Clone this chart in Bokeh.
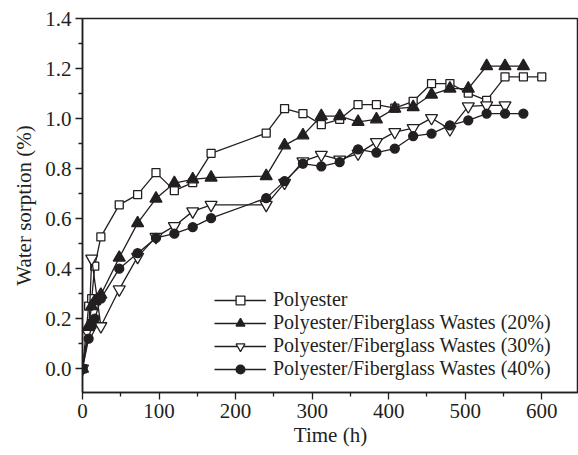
from bokeh.plotting import figure
from bokeh.models import Range1d, FixedTicker, PrintfTickFormatter, Legend, LegendItem
from bokeh.embed import file_html
from bokeh.resources import INLINE

# ---- data ----
t_poly = [0, 8, 12, 16, 24, 48, 72, 96, 120, 144, 168, 240, 264, 288, 312, 336, 360, 384, 408, 432, 456, 480, 504, 528, 552, 576, 600]
y_poly = [0, 0.25, 0.28, 0.41, 0.527, 0.655, 0.696, 0.784, 0.712, 0.744, 0.861, 0.942, 1.04, 1.02, 0.976, 0.997, 1.056, 1.056, 1.042, 1.069, 1.14, 1.14, 1.102, 1.073, 1.167, 1.167, 1.167]

t_20 = [0, 8, 12, 16, 24, 48, 72, 96, 120, 144, 168, 240, 264, 288, 312, 336, 360, 384, 408, 432, 456, 480, 504, 528, 552, 576]
y_20 = [0, 0.17, 0.25, 0.27, 0.296, 0.444, 0.582, 0.68, 0.742, 0.757, 0.764, 0.77, 0.893, 0.933, 1.01, 1.01, 0.987, 0.997, 1.04, 1.046, 1.096, 1.12, 1.12, 1.21, 1.21, 1.21]

t_30 = [0, 8, 12, 24, 48, 72, 96, 120, 144, 168, 240, 264, 288, 312, 336, 360, 384, 408, 432, 456, 480, 504, 528, 552]
y_30 = [0, 0.14, 0.44, 0.17, 0.317, 0.447, 0.527, 0.57, 0.629, 0.655, 0.655, 0.743, 0.829, 0.855, 0.836, 0.86, 0.906, 0.946, 0.962, 1.002, 0.957, 1.049, 1.053, 1.053]

t_40 = [0, 8, 12, 16, 24, 48, 72, 96, 120, 144, 168, 240, 264, 288, 312, 336, 360, 384, 408, 432, 456, 480, 504, 528, 552, 576]
y_40 = [0, 0.12, 0.17, 0.2, 0.28, 0.4, 0.462, 0.523, 0.54, 0.566, 0.602, 0.682, 0.75, 0.82, 0.809, 0.826, 0.877, 0.864, 0.88, 0.93, 0.94, 0.973, 0.993, 1.02, 1.02, 1.02]

labels = ["Polyester",
          "Polyester/Fiberglass Wastes (20%)",
          "Polyester/Fiberglass Wastes (30%)",
          "Polyester/Fiberglass Wastes (40%)"]

x_major = [0, 100, 200, 300, 400, 500, 600]
x_minor = [50, 150, 250, 350, 450, 550]
y_major = [0.0, 0.2, 0.4, 0.6, 0.8, 1.0, 1.2, 1.4]
y_minor = [0.1, 0.3, 0.5, 0.7, 0.9, 1.1, 1.3]

INK = "#231f20"
FONT = "Liberation Serif"
FS = "21px"
LFS = "20px"

p = figure(width=578, height=455, output_backend="svg", toolbar_location=None,
           x_range=Range1d(0, 648), y_range=Range1d(-0.095, 1.4),
           min_border_left=82, min_border_right=0, min_border_top=18, min_border_bottom=63)
p.grid.visible = False
p.background_fill_color = "white"
p.border_fill_color = "white"
p.outline_line_color = INK
p.outline_line_width = 1.5

series = [
    (t_poly, y_poly, "square", 8, "white"),
    (t_20, y_20, "triangle", 12, INK),
    (t_30, y_30, "inverted_triangle", 12, "white"),
    (t_40, y_40, "circle", 9, INK),
]
items = []
for (tx, ty, mk, sz, fill), lab in zip(series, labels):
    r1 = p.line(tx, ty, line_color=INK, line_width=1.3)
    r2 = p.scatter(tx, ty, marker=mk, size=sz, fill_color=fill, line_color=INK, line_width=1.3)
    items.append(LegendItem(label=lab, renderers=[r1, r2]))

legend = Legend(items=items, location=(132, 12), orientation="vertical",
                border_line_color=None, background_fill_alpha=0,
                padding=0, margin=0, spacing=0,
                glyph_width=52, glyph_height=22, label_height=22, label_standoff=7,
                label_text_font=FONT, label_text_font_size=LFS, label_text_color=INK,
                label_text_line_height=1.0)
p.add_layout(legend, "center")

for ax in (p.xaxis[0], p.yaxis[0]):
    ax.axis_line_color = INK
    ax.axis_line_width = 1.5
    ax.major_tick_line_color = INK
    ax.major_tick_line_width = 1.3
    ax.minor_tick_line_color = INK
    ax.minor_tick_line_width = 1.3
    ax.major_tick_out = 7
    ax.major_tick_in = 0
    ax.minor_tick_out = 4
    ax.minor_tick_in = 0
    ax.major_label_text_font = FONT
    ax.major_label_text_font_size = FS
    ax.major_label_text_color = INK
    ax.axis_label_text_font = FONT
    ax.axis_label_text_font_size = FS
    ax.axis_label_text_font_style = "normal"
    ax.axis_label_text_color = INK

p.xaxis.ticker = FixedTicker(ticks=x_major, minor_ticks=x_minor)
p.yaxis.ticker = FixedTicker(ticks=y_major, minor_ticks=y_minor)
p.yaxis.formatter = PrintfTickFormatter(format="%.1f")
p.xaxis.axis_label = "Time (h)"
p.yaxis.axis_label = "Water sorption (%)"
p.xaxis.major_label_standoff = 4
p.yaxis.major_label_standoff = 4
p.xaxis.axis_label_standoff = 2
p.yaxis.axis_label_standoff = 6

open("out.html", "w").write(file_html(p, INLINE))
